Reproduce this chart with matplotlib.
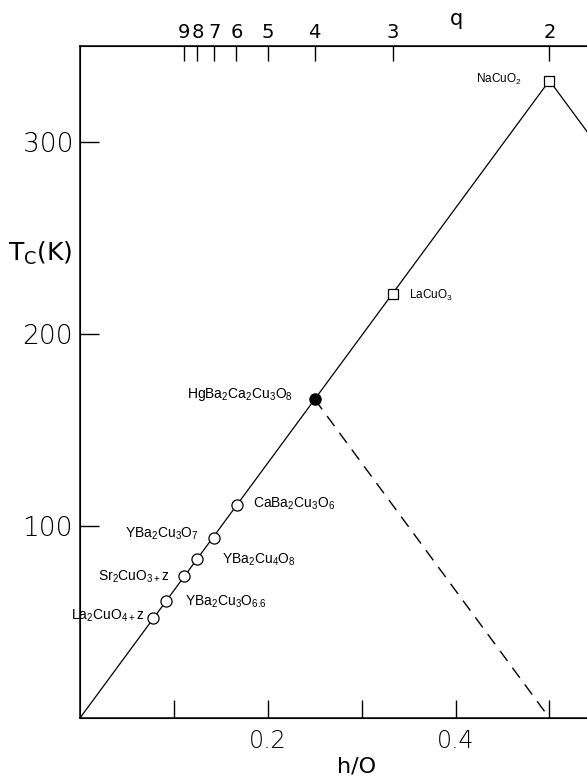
import matplotlib
matplotlib.use("Agg")
import matplotlib.pyplot as plt

plt.rcParams['font.family'] = ['Liberation Sans', 'DejaVu Sans']
plt.rcParams['mathtext.fontset'] = 'custom'
plt.rcParams['mathtext.rm'] = 'Liberation Sans'
plt.rcParams['mathtext.default'] = 'regular'

# cuprates (open circles)
circ_names = [r'La$_2$CuO$_{4+}$z', r'YBa$_2$Cu$_3$O$_{6.6}$', r'Sr$_2$CuO$_{3+}$z',
              r'YBa$_2$Cu$_4$O$_8$', r'YBa$_2$Cu$_3$O$_7$', r'CaBa$_2$Cu$_3$O$_6$']
circ_hO = [0.078, 0.092, 0.111, 0.125, 0.143, 0.167]
circ_Tc = [52, 61, 74, 83, 94, 111]

# hypothetical compounds (squares)
sq_names = [r'LaCuO$_3$', r'NaCuO$_2$']
sq_hO = [0.333, 0.5]
sq_Tc = [221, 332]

# Hg-1223 (filled circle)
hg_name = r'HgBa$_2$Ca$_2$Cu$_3$O$_8$'
hg_hO = 0.25
hg_Tc = 166

line_hO = [0, 0.5, 1.0]
line_Tc = [0, 332, 0]
dash_hO = [0.25, 0.5]
dash_Tc = [166, 0]

q_vals = [9, 8, 7, 6, 5, 4, 3, 2]

fig = plt.figure(figsize=(5.87, 7.83), dpi=100)
ax = fig.add_axes([80/587, 65/783, 507/587, 672/783])

ax.plot(line_hO, line_Tc, color='black', lw=0.9, zorder=2)
ax.plot(dash_hO, dash_Tc, color='black', lw=1.0, dashes=(9, 6), zorder=2)
ax.plot(circ_hO, circ_Tc, 'o', ms=8, mfc='white', mec='black', mew=0.9, ls='none', zorder=3)
ax.plot(sq_hO, sq_Tc, 's', ms=7, mfc='white', mec='black', mew=0.9, ls='none', zorder=3)
ax.plot([hg_hO], [hg_Tc], 'o', ms=8, mfc='black', mec='black', ls='none', zorder=3)

# label offsets in points
circ_off = [(-6, 1.5, 'right'), (13.5, -1, 'left'), (-10, -0.7, 'right'),
            (18, -0.7, 'left'), (-11.5, 3, 'right'), (12, 0.7, 'left')]
for name, x, y, (dx, dy, ha) in zip(circ_names, circ_hO, circ_Tc, circ_off):
    ax.annotate(name, (x, y), xytext=(dx, dy), textcoords='offset points',
                ha=ha, va='center', fontsize=10)
sq_off = [(12, -1, 'left'), (-20, 1, 'right')]
for name, x, y, (dx, dy, ha) in zip(sq_names, sq_hO, sq_Tc, sq_off):
    ax.annotate(name, (x, y), xytext=(dx, dy), textcoords='offset points',
                ha=ha, va='center', fontsize=8.5)
ax.annotate(hg_name, (hg_hO, hg_Tc), xytext=(-16, 3.5), textcoords='offset points',
            ha='right', va='center', fontsize=10)

ax.set_xlim(0, 0.54)
ax.set_ylim(0, 350)
ax.spines['right'].set_visible(False)
for s in ['left', 'bottom', 'top']:
    ax.spines[s].set_linewidth(1.1)

ax.set_xticks([0.1, 0.2, 0.3, 0.4, 0.5])
ax.set_xticklabels(['', '0.2', '', '0.4', ''])
ax.set_yticks([100, 200, 300])
ax.set_yticklabels(['100', '200', '300'])
ax.tick_params(axis='x', direction='in', length=13, width=1.0, pad=8, labelsize=17)
ax.tick_params(axis='y', direction='in', length=14, width=1.0, pad=5, labelsize=19)
for lab in ax.get_xticklabels() + ax.get_yticklabels():
    lab.set_fontfamily(['DejaVu Sans'])
    lab.set_fontweight('light')

ax.set_ylabel(r'T$_C$(K)', rotation=0, fontsize=18, ha='center', va='center',
              fontfamily=['DejaVu Sans'])
ax.yaxis.set_label_coords(-0.079, 0.692)
ax.set_xlabel('h/O', fontsize=16, fontfamily=['DejaVu Sans'], va='center')
ax.xaxis.set_label_coords(0.546, -0.072)

ax2 = ax.twiny()
ax2.set_xlim(ax.get_xlim())
ax2.spines['right'].set_visible(False)
ax2.set_xticks([1/q for q in q_vals])
ax2.set_xticklabels([str(q) for q in q_vals])
ax2.tick_params(axis='x', direction='in', length=11, width=1.0, pad=3, labelsize=14)
for lab in ax2.get_xticklabels():
    lab.set_fontfamily(['DejaVu Sans'])
ax.text(0.742, 1.04, 'q', transform=ax.transAxes, ha='center', va='center',
        fontsize=15, fontfamily=['DejaVu Sans'])

fig.savefig('out.png', dpi=100)
